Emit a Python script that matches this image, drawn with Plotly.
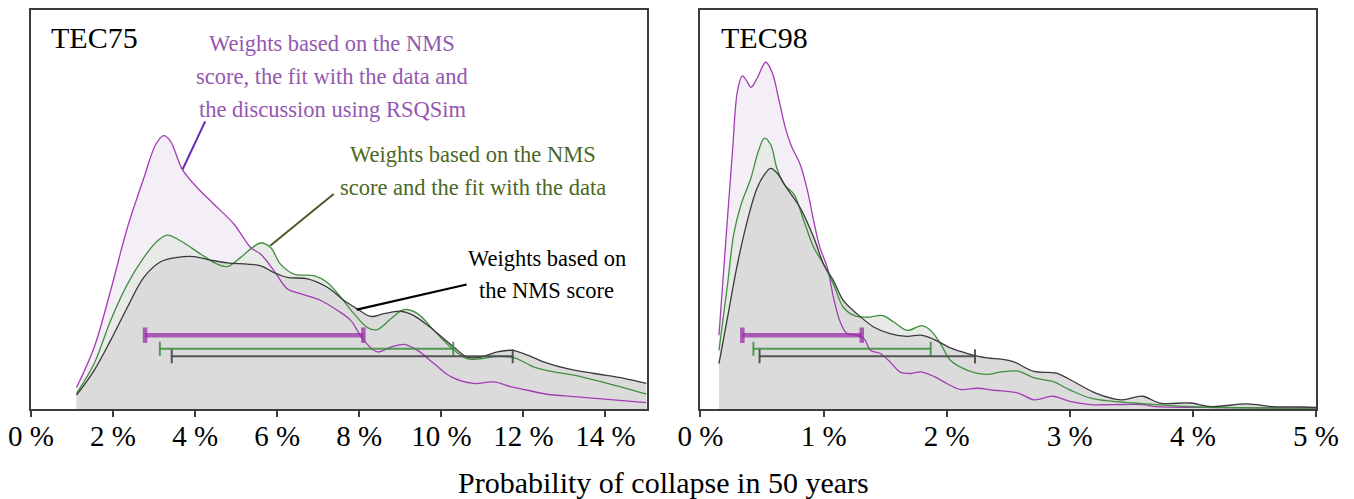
import plotly.graph_objects as go

# ---------------- data (x in %, relative density) ----------------
tec75_nms_rsq_x = [1.11, 1.54, 1.94, 2.35, 2.75, 3.04, 3.23, 3.40, 3.69, 4.06, 4.46, 4.95, 5.35, 5.60, 5.92, 6.25, 6.57, 7.06, 7.47, 7.79, 8.11, 8.44, 8.77, 9.09, 9.42, 9.82, 10.23, 10.79, 11.28, 11.69, 12.10, 12.58, 13.23, 14.05, 15.0]
tec75_nms_rsq_y = [5.4, 15.5, 29.7, 45.5, 57.9, 66.3, 68.5, 67.1, 60.0, 55.4, 51.3, 46.3, 40.5, 38.8, 34.7, 30.1, 28.9, 27.2, 24.7, 22.2, 17.2, 14.3, 15.5, 16.2, 14.7, 11.4, 8.1, 6.4, 6.8, 5.6, 4.7, 3.7, 3.1, 2.4, 1.6]

tec75_nms_fit_x = [1.11, 1.54, 1.94, 2.35, 2.75, 3.08, 3.32, 3.65, 4.14, 4.54, 4.79, 5.11, 5.40, 5.60, 5.84, 6.08, 6.41, 6.90, 7.22, 7.55, 7.87, 8.20, 8.44, 8.77, 9.09, 9.42, 9.82, 10.23, 10.63, 10.96, 11.36, 11.77, 12.26, 12.74, 13.23, 14.05, 15.0]
tec75_nms_fit_y = [3.9, 11.4, 22.2, 31.3, 38.0, 42.1, 43.6, 42.1, 38.8, 36.3, 35.7, 38.0, 40.5, 41.6, 40.5, 36.3, 33.8, 33.4, 31.7, 28.0, 23.9, 20.4, 19.9, 22.6, 24.9, 23.9, 19.7, 15.5, 12.6, 12.6, 13.2, 12.9, 10.5, 9.3, 8.5, 6.4, 3.7]

tec75_nms_x = [1.11, 1.54, 1.94, 2.35, 2.75, 3.16, 3.57, 3.97, 4.38, 4.79, 5.27, 5.60, 5.92, 6.25, 6.74, 7.22, 7.63, 7.95, 8.28, 8.60, 9.01, 9.33, 9.82, 10.31, 10.63, 10.96, 11.36, 11.73, 12.10, 12.58, 13.07, 13.72, 14.45, 15.0]
tec75_nms_y = [3.5, 9.7, 17.2, 25.5, 33.0, 36.9, 38.0, 38.2, 37.3, 36.6, 36.3, 35.9, 34.2, 33.0, 32.6, 30.5, 27.2, 25.1, 23.2, 23.9, 24.5, 23.4, 19.7, 15.5, 13.0, 13.0, 14.3, 14.7, 13.5, 11.5, 10.1, 8.9, 7.7, 6.4]

tec98_nms_rsq_x = [0.15, 0.20, 0.26, 0.30, 0.34, 0.38, 0.41, 0.46, 0.53, 0.58, 0.64, 0.69, 0.74, 0.81, 0.87, 0.92, 0.97, 1.03, 1.08, 1.14, 1.19, 1.27, 1.33, 1.38, 1.46, 1.54, 1.62, 1.71, 1.79, 1.90, 2.00, 2.11, 2.25, 2.38, 2.58, 2.71, 2.86, 3.00, 3.17, 3.35, 3.59, 3.70, 4.05, 5.0]
tec98_nms_rsq_y = [18.5, 39.7, 64.6, 79.6, 83.5, 82.0, 80.6, 82.9, 86.9, 84.5, 77.1, 70.4, 65.8, 61.3, 54.6, 47.1, 40.5, 35.5, 28.0, 21.4, 18.9, 18.5, 17.6, 14.7, 13.9, 11.8, 9.3, 8.9, 9.3, 8.1, 6.4, 4.9, 5.2, 4.7, 4.0, 2.3, 3.2, 1.9, 1.1, 1.1, 1.1, 0.6, 0.4, 0.2]

tec98_nms_fit_x = [0.15, 0.22, 0.27, 0.33, 0.41, 0.47, 0.52, 0.57, 0.62, 0.68, 0.76, 0.84, 0.92, 1.00, 1.08, 1.16, 1.25, 1.35, 1.48, 1.57, 1.68, 1.80, 1.87, 1.95, 2.03, 2.17, 2.33, 2.44, 2.58, 2.71, 2.86, 3.00, 3.17, 3.35, 3.52, 3.70, 4.05, 5.0]
tec98_nms_fit_y = [14.7, 31.3, 43.8, 51.3, 57.9, 64.6, 67.9, 66.3, 60.4, 56.3, 53.8, 47.1, 40.5, 36.3, 31.3, 25.5, 23.4, 23.0, 23.4, 21.8, 19.7, 20.9, 19.7, 16.4, 12.2, 9.7, 8.7, 9.3, 9.5, 7.8, 6.9, 4.8, 2.7, 1.9, 1.5, 1.1, 0.5, 0.2]

tec98_nms_x = [0.15, 0.22, 0.30, 0.38, 0.46, 0.53, 0.57, 0.62, 0.70, 0.81, 0.92, 1.00, 1.08, 1.16, 1.27, 1.41, 1.54, 1.68, 1.79, 1.90, 2.03, 2.17, 2.33, 2.44, 2.54, 2.71, 2.89, 3.03, 3.21, 3.42, 3.59, 3.73, 3.98, 4.15, 4.44, 4.65, 4.89, 5.0]
tec98_nms_y = [11.4, 23.0, 36.3, 47.1, 55.4, 59.2, 60.3, 59.2, 55.4, 50.4, 43.0, 36.3, 32.2, 27.2, 23.9, 20.5, 18.9, 18.2, 18.5, 17.4, 15.3, 13.9, 12.8, 12.5, 11.9, 9.4, 9.0, 6.9, 4.0, 2.3, 3.2, 1.5, 1.5, 0.6, 1.3, 0.6, 0.5, 0.4]

# intervals [low, high] and plotting level
tec75_intervals = {"rsq": [2.78, 8.10], "fit": [3.14, 10.29], "nms": [3.43, 11.74]}
tec98_intervals = {"rsq": [0.34, 1.31], "fit": [0.43, 1.87], "nms": [0.48, 2.23]}
interval_levels = {"rsq": 18.5, "fit": 15.1, "nms": 13.2}

x_ticks_left = [0, 2, 4, 6, 8, 10, 12, 14]
x_ticks_right = [0, 1, 2, 3, 4, 5]
x_ticktext_left = [f"{v} %" for v in x_ticks_left]
x_ticktext_right = [f"{v} %" for v in x_ticks_right]

# ---------------- styles ----------------
SERIF = "Liberation Serif, Times New Roman, serif"
col_line = {"rsq": "#a23db4", "fit": "#3f8f3f", "nms": "#3a3a3a"}
col_fill = {"rsq": "#f4eff6", "fit": "#e7eae6", "nms": "#dbdbdb"}
col_int = {"rsq": "rgba(150,40,165,0.72)", "fit": "rgba(60,140,60,0.85)", "nms": "rgba(70,70,70,0.9)"}
int_width = {"rsq": 4.5, "fit": 2, "nms": 2}

fig = go.Figure()

panels = [
    ("x", "y", {"rsq": (tec75_nms_rsq_x, tec75_nms_rsq_y), "fit": (tec75_nms_fit_x, tec75_nms_fit_y), "nms": (tec75_nms_x, tec75_nms_y)}, tec75_intervals),
    ("x2", "y2", {"rsq": (tec98_nms_rsq_x, tec98_nms_rsq_y), "fit": (tec98_nms_fit_x, tec98_nms_fit_y), "nms": (tec98_nms_x, tec98_nms_y)}, tec98_intervals),
]

for xa, ya, series, intervals in panels:
    for key in ["rsq", "fit", "nms"]:
        xs, ys = series[key]
        fig.add_trace(go.Scatter(x=xs, y=ys, xaxis=xa, yaxis=ya, mode="lines",
                                 line=dict(width=0, shape="spline", smoothing=1.0),
                                 fill="tozeroy", fillcolor=col_fill[key],
                                 hoverinfo="skip", showlegend=False))
    for key in ["rsq", "fit", "nms"]:
        xs, ys = series[key]
        fig.add_trace(go.Scatter(x=xs, y=ys, xaxis=xa, yaxis=ya, mode="lines",
                                 line=dict(width=1.3, color=col_line[key], shape="spline", smoothing=1.0),
                                 showlegend=False))
    for key in ["rsq", "fit", "nms"]:
        lo, hi = intervals[key]
        lvl = interval_levels[key]
        fig.add_trace(go.Scatter(x=[lo, hi], y=[lvl, lvl], xaxis=xa, yaxis=ya, mode="lines+markers",
                                 line=dict(width=int_width[key], color=col_int[key]),
                                 marker=dict(symbol="line-ns", size=11 if key == "rsq" else 10,
                                             line=dict(width=int_width[key] if key == "rsq" else 2, color=col_int[key])),
                                 showlegend=False))

axis_common = dict(showline=True, linecolor="#3c3c3c", linewidth=1.5, mirror=True,
                   showgrid=False, zeroline=False)

fig.update_layout(
    width=1354, height=499,
    margin=dict(l=30, r=38, t=8, b=90),
    paper_bgcolor="white", plot_bgcolor="white",
    font=dict(family=SERIF, color="black"),
    xaxis=dict(domain=[0, 0.479], range=[0, 15], tickmode="array", tickvals=x_ticks_left, ticktext=x_ticktext_left,
               ticks="outside", ticklen=6, tickcolor="#3c3c3c", tickwidth=1.5, ticklabelstandoff=-6,
               tickfont=dict(size=29, family=SERIF), anchor="y", **axis_common),
    yaxis=dict(domain=[0, 1], range=[0, 100], showticklabels=False, ticks="", anchor="x", **axis_common),
    xaxis2=dict(domain=[0.521, 1], range=[0, 5], tickmode="array", tickvals=x_ticks_right, ticktext=x_ticktext_right,
                ticks="outside", ticklen=6, tickcolor="#3c3c3c", tickwidth=1.5, ticklabelstandoff=-6,
                tickfont=dict(size=29, family=SERIF), anchor="y2", **axis_common),
    yaxis2=dict(domain=[0, 1], range=[0, 100], showticklabels=False, ticks="", anchor="x2", **axis_common),
)

ann = []
# panel labels
ann.append(dict(text="TEC75", xref="x domain", yref="y domain", x=0.03, y=0.93, xanchor="left", yanchor="middle",
                showarrow=False, font=dict(size=30, family=SERIF, color="black")))
ann.append(dict(text="TEC98", xref="x2 domain", yref="y2 domain", x=0.03, y=0.93, xanchor="left", yanchor="middle",
                showarrow=False, font=dict(size=30, family=SERIF, color="black")))

purple_txt = "#9457b0"
green_txt = "#4b6726"
for t, yv in zip(["Weights based on the NMS", "score, the fit with the data and", "the discussion using RSQSim"], [91.6, 83.3, 75.0]):
    ann.append(dict(text=t, xref="x", yref="y", x=7.34, y=yv, showarrow=False, xanchor="center", yanchor="middle",
                    font=dict(size=22.5, family=SERIF, color=purple_txt)))
for t, yv in zip(["Weights based on the NMS", "score and the fit with the data"], [63.8, 55.4]):
    ann.append(dict(text=t, xref="x", yref="y", x=10.77, y=yv, showarrow=False, xanchor="center", yanchor="middle",
                    font=dict(size=22.5, family=SERIF, color=green_txt)))
for t, yv in zip(["Weights based on", "the NMS score"], [37.8, 29.7]):
    ann.append(dict(text=t, xref="x", yref="y", x=12.57, y=yv, showarrow=False, xanchor="center", yanchor="middle",
                    font=dict(size=22.5, family=SERIF, color="black")))

ann.append(dict(text="Probability of collapse in 50 years", xref="paper", yref="paper", x=0.4922, y=-0.1845,
                xanchor="center", yanchor="middle", showarrow=False, font=dict(size=30, family=SERIF, color="black")))
fig.update_layout(annotations=ann)

shapes = [
    dict(type="line", xref="x", yref="y", x0=4.245, y0=72.1, x1=3.696, y1=60.1, line=dict(color="#6a2ab0", width=2)),
    dict(type="line", xref="x", yref="y", x0=7.376, y0=53.9, x1=5.829, y1=40.9, line=dict(color="#4a5a2a", width=2)),
    dict(type="line", xref="x", yref="y", x0=10.617, y0=31.2, x1=7.936, y1=24.9, line=dict(color="black", width=2.2)),
]
fig.update_layout(shapes=shapes)

fig.write_html("out.html", config={"displayModeBar": False},
               post_script="document.body.style.margin='0';")
